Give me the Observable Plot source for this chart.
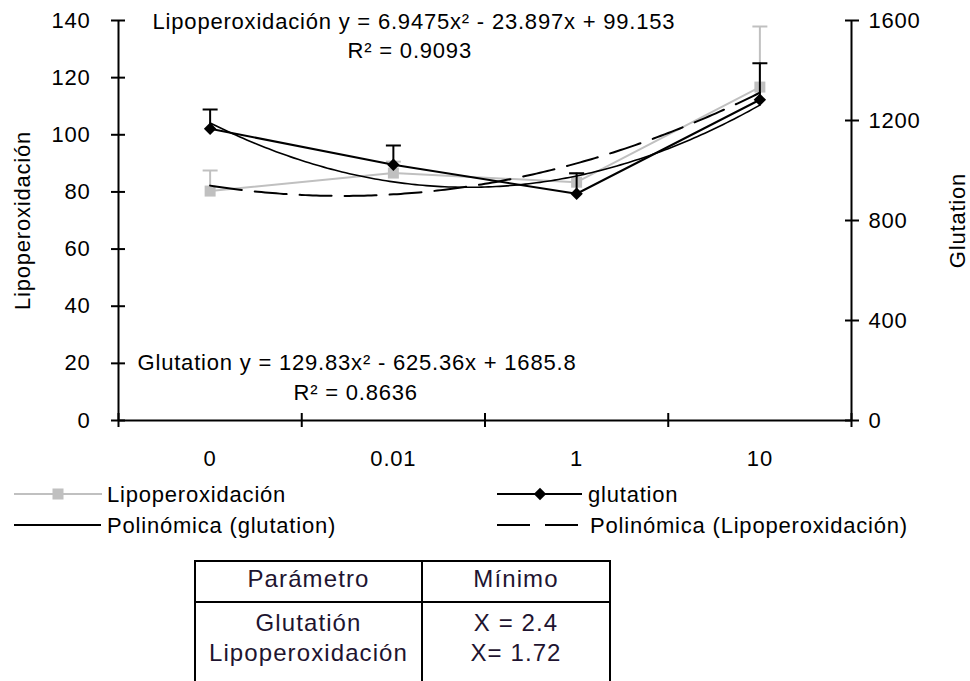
<!DOCTYPE html>
<html><head><meta charset="utf-8">
<script src="https://cdn.jsdelivr.net/npm/d3@7"></script>
<script src="https://cdn.jsdelivr.net/npm/@observablehq/plot@0.6"></script>
<style>
body{margin:0;background:#fff;font-family:"Liberation Sans",Arial,sans-serif;}
#wrap{position:relative;width:970px;height:681px;overflow:hidden;background:#fff;}
#chart{position:absolute;left:0;top:0;}
#legend{position:absolute;left:0;top:478px;}
#tbl{position:absolute;left:194px;top:560px;border-collapse:collapse;font-size:24px;letter-spacing:1.1px;color:#1e1430;}
#tbl td{border:2px solid #000;text-align:center;vertical-align:top;padding:0;}
#tbl tr.h td{height:39px;line-height:34px;}
#tbl tr.b td{height:90px;line-height:30px;padding-top:5px;}
</style></head><body><div id="wrap"><div id="chart"></div><div id="legend"></div>
<table id="tbl"></table></div>
<script>
// ---- data ----
const categories = ["0", "0.01", "1", "10"];
const lipoValues = [80.3, 86.6, 83.4, 116.7];
const lipoErrors = [7.2, 4, 3, 21.2];
const glutValues = [1167, 1023, 907, 1283];
const glutErrors = [77, 77, 82, 146];
const leftTicks = [0, 20, 40, 60, 80, 100, 120, 140];
const rightTicks = [0, 400, 800, 1200, 1600];
const lipoTrendCoef = [6.9475, -23.897, 99.153];
const glutTrendCoef = [129.83, -625.36, 1685.8];
const lipoEquation = ["Lipoperoxidación y = 6.9475x² - 23.897x + 99.153", "R² = 0.9093"];
const glutEquation = ["Glutation y = 129.83x² - 625.36x + 1685.8", "R² = 0.8636"];
const leftTitle = "Lipoperoxidación";
const rightTitle = "Glutation";
const legendLabels = ["Lipoperoxidación", "glutation", "Polinómica (glutation)", "Polinómica (Lipoperoxidación)"];
const tableHeader = ["Parámetro", "Mínimo"];
const tableParams = ["Glutatión", "Lipoperoxidación"];
const tableMinima = ["X = 2.4", "X= 1.72"];
const leftMax = 140, rightMax = 1600;

// ---- derived ----
const k = rightMax / leftMax;
const poly = (c, x) => c[0] * x * x + c[1] * x + c[2];
const lipo = categories.map((c, i) => ({x: i + 1, v: lipoValues[i], top: lipoValues[i] + lipoErrors[i]}));
const glut = categories.map((c, i) => ({x: i + 1, v: glutValues[i] / k, top: (glutValues[i] + glutErrors[i]) / k}));
const xs = d3.range(1, categories.length + 0.0001, 0.02);
const lipoTrend = xs.map(x => ({x, y: poly(lipoTrendCoef, x)}));
const glutTrend = xs.map(x => ({x, y: poly(glutTrendCoef, x) / k}));
const xDomain = [0.5, categories.length + 0.5];
const bounds = d3.range(0, categories.length + 1).map(i => i + 0.5);

// annotation placement (data units)
const annots = [
  {x: 0.686, y: 139.5, t: lipoEquation[0]},
  {x: 1.750, y: 129.4, t: lipoEquation[1]},
  {x: 0.604, y: 20.0, t: glutEquation[0]},
  {x: 1.455, y: 9.5, t: glutEquation[1]}
];

const capSymbol = {draw(ctx, size) { const r = Math.sqrt(size / Math.PI); ctx.moveTo(-r, 0); ctx.lineTo(r, 0); }};
const gray = "#c0c0c0";

const chart = Plot.plot({
  width: 970, height: 478,
  marginLeft: 118, marginRight: 119, marginTop: 20, marginBottom: 58,
  style: {fontFamily: "Liberation Sans, Arial, sans-serif", fontSize: "22px", color: "#000", background: "#fff", letterSpacing: "0.8px", overflow: "visible"},
  x: {domain: xDomain, label: null},
  y: {domain: [0, leftMax], label: null},
  marks: [
    Plot.ruleY([0], {stroke: "#000", strokeWidth: 2}),
    Plot.ruleX([xDomain[0]], {stroke: "#000", strokeWidth: 2}),
    Plot.ruleX([xDomain[1]], {stroke: "#000", strokeWidth: 2}),
    Plot.axisY({anchor: "left", ticks: leftTicks, tickSize: 14, dx: 7, tickPadding: 21, strokeWidth: 2, label: null}),
    Plot.axisY({anchor: "right", ticks: rightTicks.map(t => t / k), tickFormat: d => String(Math.round(d * k)), tickSize: 14, dx: -7, tickPadding: 10, strokeWidth: 2, label: null}),
    Plot.axisX({ticks: bounds, tickSize: 14, dy: -7, tickFormat: () => "", strokeWidth: 2, label: null}),
    Plot.axisX({ticks: categories.map((c, i) => i + 1), tickSize: 0, tickPadding: 30, tickFormat: d => categories[Math.round(d) - 1], label: null}),
    Plot.text([leftTitle], {frameAnchor: "left", textAnchor: "middle", dx: -96, rotate: -90, text: d => d, fontSize: 22}),
    Plot.text([rightTitle], {frameAnchor: "right", textAnchor: "middle", dx: 106, rotate: -90, text: d => d, fontSize: 22}),
    // Lipoperoxidación series
    Plot.ruleX(lipo, {x: "x", y1: "v", y2: "top", stroke: gray, strokeWidth: 2}),
    Plot.dot(lipo, {x: "x", y: "top", symbol: capSymbol, r: 7.5, stroke: gray, strokeWidth: 2, fill: "none"}),
    Plot.line(lipo, {x: "x", y: "v", stroke: gray, strokeWidth: 2}),
    Plot.dot(lipo, {x: "x", y: "v", symbol: "square", r: 6.2, fill: gray, stroke: "none"}),
    // glutation series
    Plot.ruleX(glut, {x: "x", y1: "v", y2: "top", stroke: "#000", strokeWidth: 2}),
    Plot.dot(glut, {x: "x", y: "top", symbol: capSymbol, r: 7.5, stroke: "#000", strokeWidth: 2, fill: "none"}),
    Plot.line(glut, {x: "x", y: "v", stroke: "#000", strokeWidth: 2}),
    Plot.dot(glut, {x: "x", y: "v", symbol: "diamond2", r: 5.6, fill: "#000", stroke: "none"}),
    // trendlines
    Plot.line(glutTrend, {x: "x", y: "y", stroke: "#000", strokeWidth: 1.6, curve: "linear"}),
    Plot.line(lipoTrend, {x: "x", y: "y", stroke: "#000", strokeWidth: 2, strokeDasharray: "32,13"}),
    // equations
    Plot.text(annots, {x: "x", y: "y", text: "t", textAnchor: "start", fontSize: 22})
  ]
});
document.getElementById("chart").append(chart);

// ---- legend ----
const lg = d3.create("svg").attr("width", 970).attr("height", 64)
  .style("font-family", "Liberation Sans, Arial, sans-serif").style("font-size", "22px").style("letter-spacing", "0.8px");
const r1 = 16, r2 = 47;
lg.append("line").attr("x1", 14).attr("x2", 102).attr("y1", r1).attr("y2", r1).attr("stroke", gray).attr("stroke-width", 2);
lg.append("rect").attr("x", 52.5).attr("y", r1 - 5.5).attr("width", 11).attr("height", 11).attr("fill", gray);
lg.append("text").attr("x", 107).attr("y", r1).attr("dy", "0.35em").text(legendLabels[0]);
lg.append("line").attr("x1", 497).attr("x2", 582).attr("y1", r1).attr("y2", r1).attr("stroke", "#000").attr("stroke-width", 2);
lg.append("path").attr("d", d3.symbol(d3.symbolDiamond2, Math.PI * 5.6 * 5.6)()).attr("transform", `translate(540,${r1})`).attr("fill", "#000");
lg.append("text").attr("x", 588).attr("y", r1).attr("dy", "0.35em").text(legendLabels[1]);
lg.append("line").attr("x1", 14).attr("x2", 101).attr("y1", r2).attr("y2", r2).attr("stroke", "#000").attr("stroke-width", 2);
lg.append("text").attr("x", 107).attr("y", r2).attr("dy", "0.35em").text(legendLabels[2]);
lg.append("line").attr("x1", 497).attr("x2", 578).attr("y1", r2).attr("y2", r2).attr("stroke", "#000").attr("stroke-width", 2).attr("stroke-dasharray", "33,15");
lg.append("text").attr("x", 590).attr("y", r2).attr("dy", "0.35em").text(legendLabels[3]);
document.getElementById("legend").append(lg.node());

// ---- table ----
const tbl = d3.select("#tbl");
const h = tbl.append("tr").attr("class", "h");
h.append("td").style("width", "225px").text(tableHeader[0]);
h.append("td").style("width", "186px").text(tableHeader[1]);
const b = tbl.append("tr").attr("class", "b");
b.append("td").html(tableParams.join("<br>"));
b.append("td").html(tableMinima.join("<br>"));
</script></body></html>
